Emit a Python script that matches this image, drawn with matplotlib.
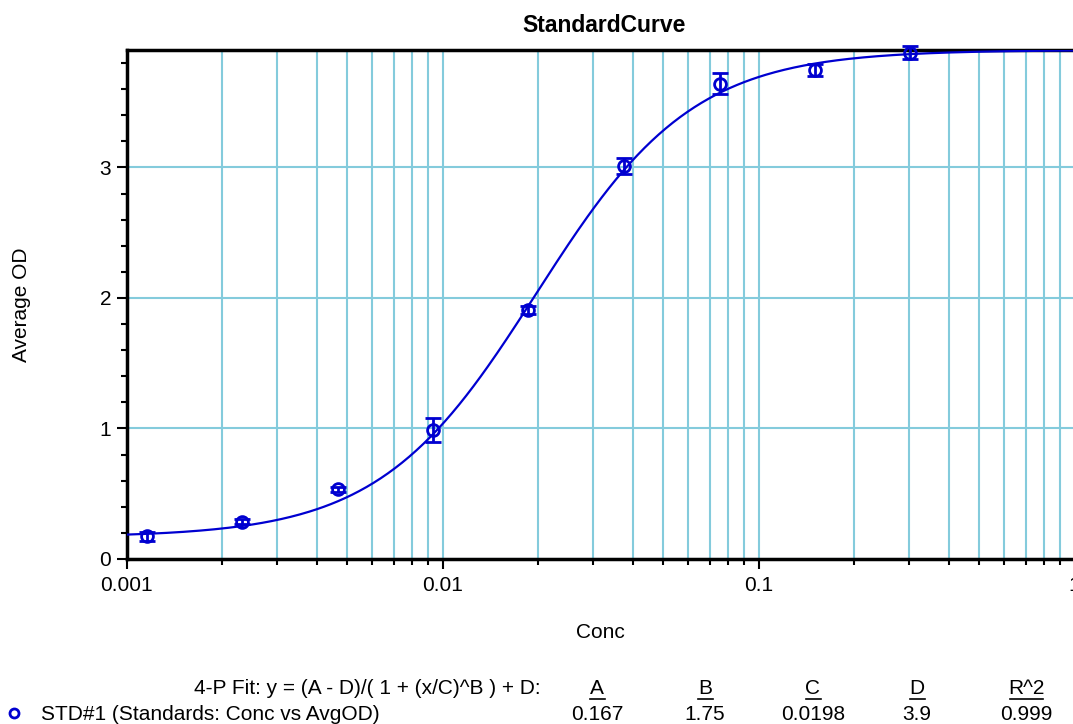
import numpy as np
import matplotlib.pyplot as plt
from matplotlib.ticker import LogLocator, MultipleLocator, FixedFormatter, FixedLocator

plt.rcParams['font.family'] = ['Liberation Sans', 'DejaVu Sans']

# standards data
conc = [0.00116, 0.00232, 0.00466, 0.00935, 0.0187, 0.0375, 0.0755, 0.151, 0.302]
avg_od = [0.175, 0.285, 0.535, 0.99, 1.91, 3.01, 3.64, 3.745, 3.88]
od_err = [0.035, 0.02, 0.02, 0.09, 0.03, 0.06, 0.08, 0.045, 0.05]

# 4-P fit parameters
fit_names = ['A', 'B', 'C', 'D', 'R^2']
fit_values = ['0.167', '1.75', '0.0198', '3.9', '0.999']
A, B, C, D = 0.167, 1.75, 0.0198, 3.9

x_ticks = [0.001, 0.01, 0.1, 1]
x_tick_labels = ['0.001', '0.01', '0.1', '1']
y_ticks = [0, 1, 2, 3]

blue = '#0000d0'
grid_col = '#84cbdc'
W, H = 1073, 724


def fx(px):
    return px / W


def fy(py):
    return 1 - py / H


fig = plt.figure(figsize=(W / 100, H / 100), dpi=100)
ax = fig.add_axes([fx(126.5), fy(559), 948 / W, (559 - 50) / H])

xs = np.logspace(-3, 0, 400)
ax.plot(xs, (A - D) / (1 + (xs / C) ** B) + D, color=blue, lw=1.6, zorder=3)
ax.errorbar(conc, avg_od, yerr=od_err, fmt='o', mfc='none', mec=blue, ms=8.5, mew=2,
            ecolor=blue, elinewidth=2, capsize=6, capthick=2.2, zorder=4, clip_on=False)

ax.set_xscale('log')
ax.set_xlim(0.001, 1)
ax.set_ylim(0, 3.9)
ax.xaxis.set_major_locator(FixedLocator(x_ticks))
ax.xaxis.set_major_formatter(FixedFormatter(x_tick_labels))
ax.xaxis.set_minor_locator(LogLocator(base=10, subs=np.arange(2, 10)))
ax.yaxis.set_major_locator(FixedLocator(y_ticks))
ax.yaxis.set_minor_locator(MultipleLocator(0.2))

ax.grid(True, which='major', color=grid_col, lw=1.5)
ax.grid(True, which='minor', axis='x', color=grid_col, lw=1.5)
ax.set_axisbelow(True)

for s in ['left', 'bottom', 'top']:
    ax.spines[s].set_linewidth(2.5)
ax.spines['right'].set_visible(False)
ax.tick_params(which='both', direction='out', labelsize=15, width=1.5)
ax.tick_params(which='major', length=7)
ax.tick_params(which='minor', length=4)
ax.tick_params(axis='x', pad=5)
ax.tick_params(axis='y', pad=4)

fig.text(fx(604), fy(25), 'StandardCurve', ha='center', va='center',
         fontsize=16.5, fontweight='bold')
fig.text(fx(600), fy(632), 'Conc', ha='center', va='center', fontsize=15)
fig.text(fx(22), fy(305), 'Average OD', ha='center', va='center', fontsize=15,
         rotation=90)

# fit table below the plot
fig.text(fx(541), fy(688), '4-P Fit: y = (A - D)/( 1 + (x/C)^B ) + D:',
         ha='right', va='center', fontsize=15)
col_x = [597, 705, 813, 917, 1026]
for cx, name, val in zip(col_x, fit_names, fit_values):
    fig.text(fx(cx), fy(688), name, ha='center', va='center', fontsize=15)
    fig.text(fx(cx), fy(715), val, ha='center', va='center', fontsize=15)
    hw = 7.5 if len(name) == 1 else 16.5
    fig.add_artist(plt.Line2D([fx(cx - hw), fx(cx + hw)], [fy(699)] * 2,
                              color='black', lw=1.2))
fig.add_artist(plt.Line2D([fx(14)], [fy(713)], marker='o', mfc='none',
                          mec=blue, ms=6.5, mew=2))
fig.text(fx(41), fy(715), 'STD#1 (Standards: Conc vs AvgOD)',
         ha='left', va='center', fontsize=15)

fig.savefig('out.png', dpi=100)
